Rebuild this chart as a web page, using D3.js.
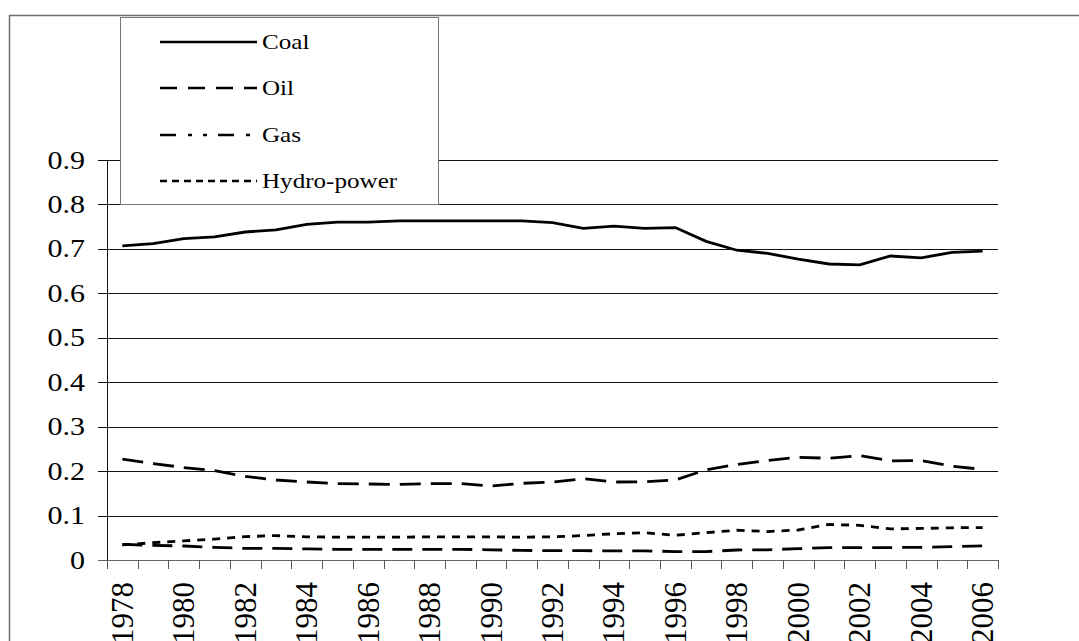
<!DOCTYPE html>
<html>
<head>
<meta charset="utf-8">
<script src="https://cdn.jsdelivr.net/npm/d3@7"></script>
<style>
  body { margin: 0; background: #fff; }
</style>
</head>
<body>
<div id="chart"></div>
<script>
// Share of energy consumption by source, 1978-2006
var years = ["1978", "1979", "1980", "1981", "1982", "1983", "1984", "1985", "1986", "1987",
  "1988", "1989", "1990", "1991", "1992", "1993", "1994", "1995", "1996", "1997",
  "1998", "1999", "2000", "2001", "2002", "2003", "2004", "2005", "2006"];

var coal = [0.707, 0.712, 0.723, 0.727, 0.738, 0.743, 0.755, 0.760, 0.760, 0.763,
  0.763, 0.763, 0.763, 0.763, 0.759, 0.746, 0.751, 0.746, 0.748, 0.717,
  0.697, 0.690, 0.677, 0.666, 0.664, 0.684, 0.680, 0.692, 0.695];

var oil = [0.227, 0.217, 0.208, 0.201, 0.188, 0.180, 0.1755, 0.172, 0.171, 0.170,
  0.172, 0.172, 0.1665, 0.1725, 0.1755, 0.183, 0.1755, 0.176, 0.180, 0.203,
  0.215, 0.224, 0.231, 0.229, 0.235, 0.223, 0.224, 0.211, 0.204];

var gas = [0.035, 0.033, 0.0315, 0.0285, 0.026, 0.026, 0.025, 0.024, 0.024, 0.024,
  0.024, 0.024, 0.023, 0.0215, 0.021, 0.021, 0.0205, 0.0205, 0.019, 0.019,
  0.0225, 0.023, 0.0255, 0.028, 0.028, 0.028, 0.0285, 0.030, 0.032];

var hydro = [0.034, 0.039, 0.043, 0.047, 0.0525, 0.055, 0.052, 0.0515, 0.0515, 0.0515,
  0.052, 0.052, 0.052, 0.0515, 0.052, 0.055, 0.059, 0.0615, 0.0555, 0.0615,
  0.067, 0.064, 0.0675, 0.080, 0.078, 0.070, 0.071, 0.0725, 0.073];

var seriesNames = ["Coal", "Oil", "Gas", "Hydro-power"];
var yTicks = [0, 0.1, 0.2, 0.3, 0.4, 0.5, 0.6, 0.7, 0.8, 0.9];
var xLabels = years.filter(function(d, i) { return i % 2 == 0; });

// dash = pattern on the plotted line, keyDash = pattern in the legend swatch
var series = [
  { name: seriesNames[0], values: coal, dash: null, keyDash: null },
  { name: seriesNames[1], values: oil, dash: "21,10", keyDash: "17,11" },
  { name: seriesNames[2], values: gas, dash: "20,10", keyDash: "16,12,4,11,4,11" },
  { name: seriesNames[3], values: hydro, dash: "8,7", keyDash: "7,5" }
];

var width = 1079, height = 641;
var fontName = "Liberation Serif";

// the source picture is a little wider than tall, so text is stretched sideways
function stretch(sel, k) {
  sel.each(function() {
    var len = this.getComputedTextLength();
    d3.select(this)
      .attr("textLength", len * k)
      .attr("lengthAdjust", "spacingAndGlyphs");
  });
}

var svg = d3.select("#chart").append("svg")
  .attr("width", width)
  .attr("height", height)
  .attr("font-family", fontName);

// outer frame (runs off the right and bottom)
svg.append("rect")
  .attr("x", 9.5).attr("y", 15.5)
  .attr("width", 1100).attr("height", 700)
  .attr("fill", "none")
  .attr("stroke", "#6e6e6e")
  .attr("stroke-width", 1.5);

// scales
var x = d3.scaleBand()
  .domain(years)
  .range([107, 998]);

var y = d3.scaleLinear()
  .domain([0, 0.9])
  .range([560, 160]);

// gridlines + y ticks
svg.selectAll(".grid")
  .data(yTicks.filter(function(d) { return d > 0; }))
  .enter().append("line")
  .attr("class", "grid")
  .attr("x1", 98).attr("x2", 998)
  .attr("y1", function(d) { return Math.round(y(d)) + 0.5; })
  .attr("y2", function(d) { return Math.round(y(d)) + 0.5; })
  .attr("stroke", "#111")
  .attr("stroke-width", 1);

// y axis line
svg.append("line")
  .attr("x1", 107.5).attr("x2", 107.5)
  .attr("y1", Math.round(y(0.9))).attr("y2", 569)
  .attr("stroke", "#111");

// x axis line
svg.append("line")
  .attr("x1", 98).attr("x2", 998.5)
  .attr("y1", Math.round(y(0)) + 0.5).attr("y2", Math.round(y(0)) + 0.5)
  .attr("stroke", "#666");

// x ticks at category boundaries
var bounds = years.map(function(d) { return x(d); }).concat([x.range()[1]]);
svg.selectAll(".xtick")
  .data(bounds)
  .enter().append("line")
  .attr("class", "xtick")
  .attr("x1", function(d) { return Math.round(d) + 0.5; })
  .attr("x2", function(d) { return Math.round(d) + 0.5; })
  .attr("y1", Math.round(y(0))).attr("y2", 569)
  .attr("stroke", "#555");

// y labels
var yLab = svg.selectAll(".ylab")
  .data(yTicks)
  .enter().append("text")
  .attr("class", "ylab")
  .attr("x", 85)
  .attr("y", function(d) { return y(d); })
  .attr("text-anchor", "end")
  .attr("dy", "0.34em")
  .style("font-family", fontName)
  .style("font-size", "25px")
  .text(function(d) { return d == 0 ? "0" : d3.format(".1f")(d); });
stretch(yLab, 1.2);

// x labels, rotated
svg.selectAll(".xlab")
  .data(xLabels)
  .enter().append("text")
  .attr("class", "xlab")
  .attr("transform", function(d) {
    return "translate(" + (x(d) + x.bandwidth() / 2) + ",582) rotate(-90)";
  })
  .attr("text-anchor", "end")
  .attr("dy", "0.34em")
  .style("font-family", fontName)
  .style("font-size", "31px")
  .text(function(d) { return d; });

// lines
var line = d3.line()
  .x(function(d, i) { return x(years[i]) + x.bandwidth() / 2; })
  .y(function(d) { return y(d); });

svg.selectAll(".series")
  .data(series)
  .enter().append("path")
  .attr("class", "series")
  .attr("d", function(d) { return line(d.values); })
  .attr("fill", "none")
  .attr("stroke", "#000")
  .attr("stroke-width", 2.8)
  .attr("stroke-dasharray", function(d) { return d.dash; });

// legend
var legend = svg.append("g").attr("class", "legend");

legend.append("rect")
  .attr("x", 120.5).attr("y", 17.5)
  .attr("width", 318).attr("height", 187)
  .attr("fill", "#fff")
  .attr("stroke", "#777")
  .attr("stroke-width", 1);

var legendY = [42, 88, 135, 181];

var items = legend.selectAll(".item")
  .data(series)
  .enter().append("g")
  .attr("class", "item")
  .attr("transform", function(d, i) { return "translate(0," + legendY[i] + ")"; });

items.append("line")
  .attr("x1", 160).attr("x2", 257)
  .attr("stroke", "#000")
  .attr("stroke-width", 2.6)
  .attr("stroke-dasharray", function(d) { return d.keyDash; });

var keyText = items.append("text")
  .attr("x", 262)
  .attr("dy", "0.34em")
  .style("font-family", fontName)
  .style("font-size", "22px")
  .text(function(d) { return d.name; });
stretch(keyText, 1.14);
</script>
</body>
</html>
